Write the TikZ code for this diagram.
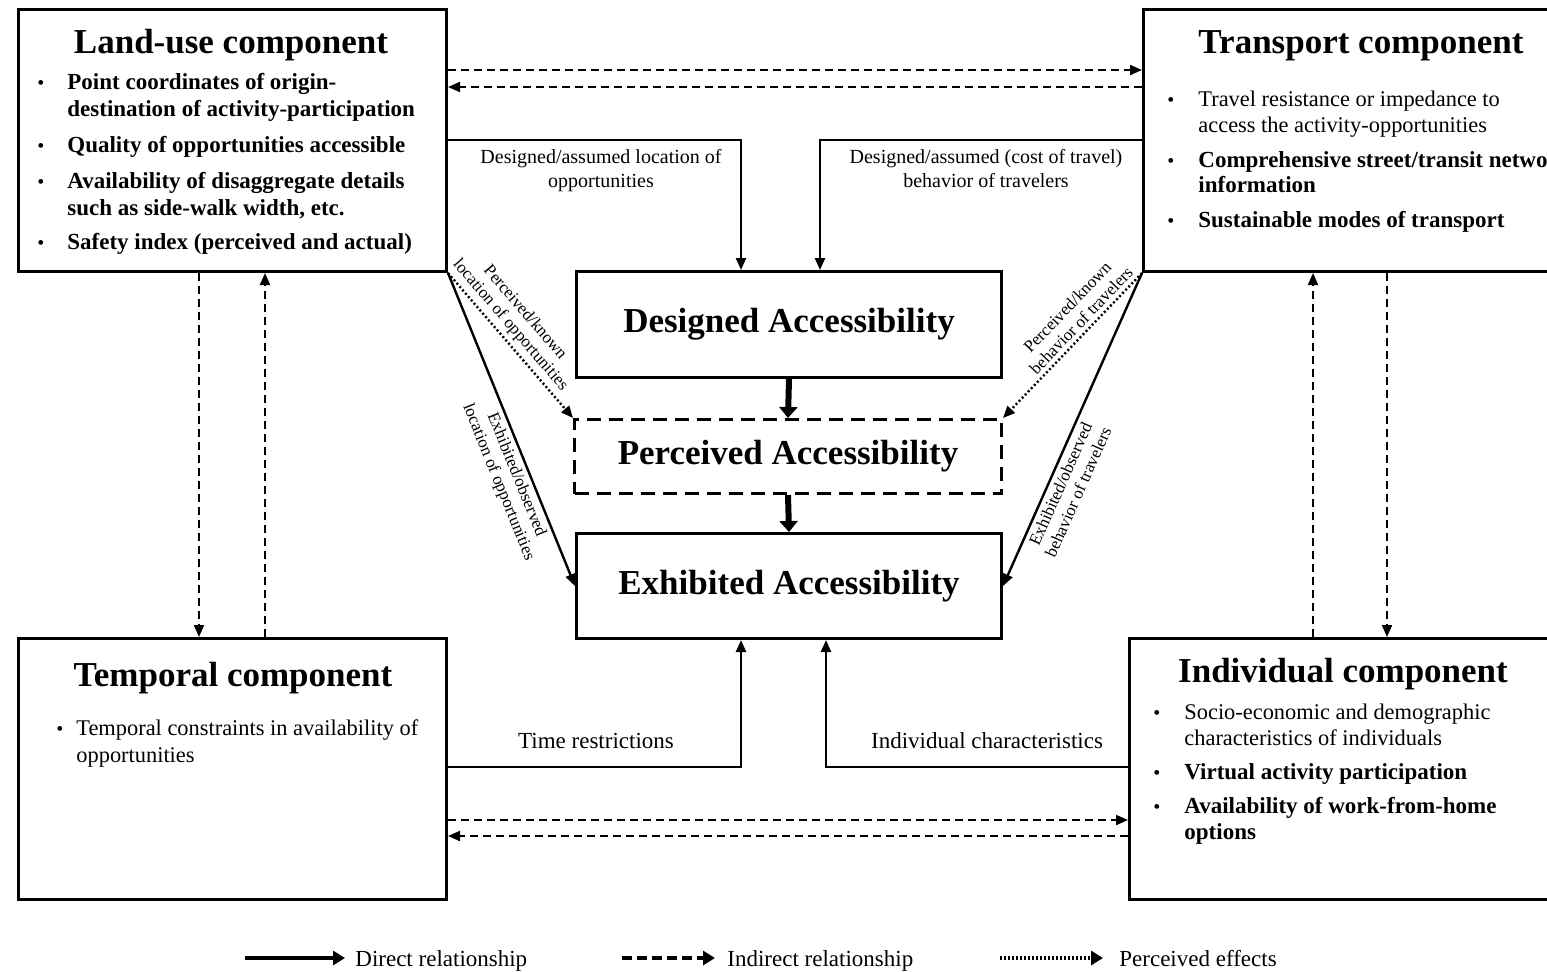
\documentclass[tikz,border=0pt]{standalone}
\usepackage{fontspec}
\setmainfont{Liberation Serif}
\usetikzlibrary{arrows.meta,calc}
\tikzset{
  box/.style={draw, line width=1.5pt, inner sep=0pt, anchor=north west},
  acc/.style={box, font=\fontsize{17.5}{20}\selectfont\bfseries},
  ttl/.style={font=\fontsize{17.5}{20}\selectfont\bfseries, anchor=base, inner sep=0pt},
  bt/.style={font=\fontsize{11.5}{13.5}\selectfont\bfseries, anchor=base west, inner sep=0pt},
  rt/.style={font=\fontsize{11.2}{13.5}\selectfont, anchor=base west, inner sep=0pt},
  bul/.style={font=\fontsize{10}{12}\selectfont, anchor=base west, inner sep=0pt},
  lbl/.style={font=\fontsize{10}{12}\selectfont, anchor=base, inner sep=0pt},
  mlbl/.style={font=\fontsize{11.5}{13.5}\selectfont, anchor=base, inner sep=0pt},
  dlbl/.style={font=\fontsize{8.5}{9.6}\selectfont, align=center, sloped, inner sep=2pt},
  leg/.style={font=\fontsize{11.5}{13.5}\selectfont, anchor=base west, inner sep=0pt},
  tip/.style={-{Triangle[length=6pt,width=5pt]}},
  dirarr/.style={tip, line width=1.2pt},
  indarr/.style={tip, line width=1pt, dash pattern=on 4pt off 2.5pt},
  percarr/.style={tip, line width=1.2pt, dash pattern=on 1pt off 1.2pt},
  thkarr/.style={line width=3pt, -{Triangle[length=5.5pt,width=9pt]}},
  legdir/.style={line width=2pt, -{Triangle[length=6pt,width=7pt]}},
  legind/.style={line width=2pt, dash pattern=on 5pt off 2.5pt, -{Triangle[length=6pt,width=7pt]}},
  legper/.style={line width=2pt, dash pattern=on 1pt off 1pt, -{Triangle[length=6pt,width=7pt]}},
}
\begin{document}
\begin{tikzpicture}[x=0.5pt,y=-0.5pt]
\useasboundingbox (0,0) rectangle (1547,971);
\clip (0,0) rectangle (1547,971);
\fill[white] (0,0) rectangle (1547,971);

% boxes
\node[box, minimum width=214pt, minimum height=131pt] (land) at (17,8) {};
\node[box, minimum width=216pt, minimum height=131pt] (trans) at (1142,8) {};
\node[box, minimum width=214pt, minimum height=130.5pt] (temp) at (17,637) {};
\node[box, minimum width=222pt, minimum height=130.5pt] (ind) at (1128,637) {};
\node[acc, minimum width=212.5pt, minimum height=53pt] (des) at (575,270) {Designed Accessibility};
\node[acc, minimum width=213.5pt, minimum height=37pt, dash pattern=on 7pt off 4pt] (perc) at (573,418) {Perceived Accessibility};
\node[acc, minimum width=212.5pt, minimum height=52.5pt] (exh) at (575,532) {Exhibited Accessibility};

% land-use text
\node[ttl] (lut) at (231,53) {Land-use component};
\node[bul] (lub1) at (37,89) {•};
\node[bt] (lu1) at (67,89) {Point coordinates of origin-};
\node[bt] (lu2) at (67,116) {destination of activity-participation};
\node[bul] (lub2) at (37,152) {•};
\node[bt] (lu3) at (67,152) {Quality of opportunities accessible};
\node[bul] (lub3) at (37,188) {•};
\node[bt] (lu4) at (67,188) {Availability of disaggregate details};
\node[bt] (lu5) at (67,215) {such as side-walk width, etc.};
\node[bul] (lub4) at (37,249) {•};
\node[bt] (lu6) at (67,249) {Safety index (perceived and actual)};

% transport text
\node[ttl] (trt) at (1361,53) {Transport component};
\node[bul] (trb1) at (1167,106) {•};
\node[rt] (tr1) at (1198,106) {Travel resistance or impedance to};
\node[rt] (tr2) at (1198,132) {access the activity-opportunities};
\node[bul] (trb2) at (1167,167) {•};
\node[bt] (tr3) at (1198,167) {Comprehensive street/transit network};
\node[bt] (tr4) at (1198,192) {information};
\node[bul] (trb3) at (1167,227) {•};
\node[bt] (tr5) at (1198,227) {Sustainable modes of transport};

% temporal text
\node[ttl] (tmt) at (233,686) {Temporal component};
\node[bul] (tmb1) at (56,735) {•};
\node[rt] (tm1) at (76,735) {Temporal constraints in availability of};
\node[rt] (tm2) at (76,762) {opportunities};

% individual text
\node[ttl] (idt) at (1343,682) {Individual component};
\node[bul] (idb1) at (1153,719) {•};
\node[rt] (id1) at (1184,719) {Socio-economic and demographic};
\node[rt] (id2) at (1184,745) {characteristics of individuals};
\node[bul] (idb2) at (1153,779) {•};
\node[bt] (id3) at (1184,779) {Virtual activity participation};
\node[bul] (idb3) at (1153,813) {•};
\node[bt] (id4) at (1184,813) {Availability of work-from-home};
\node[bt] (id5) at (1184,839) {options};

% top and bottom dashed exchanges
\draw[indarr] (land.east |- 0,70) -- (trans.west |- 0,70);
\draw[indarr] (trans.west |- 0,87) -- (land.east |- 0,87);
\draw[indarr] (temp.east |- 0,820) -- (ind.west |- 0,820);
\draw[indarr] (ind.west |- 0,836) -- (temp.east |- 0,836);

% vertical dashed
\draw[indarr] (199,0 |- land.south) -- (199,0 |- temp.north);
\draw[indarr] (265,0 |- temp.north) -- (265,0 |- land.south);
\draw[indarr] (1313,0 |- ind.north) -- (1313,0 |- trans.south);
\draw[indarr] (1387,0 |- trans.south) -- (1387,0 |- ind.north);

% designed inputs
\draw[dirarr] (land.east |- 0,140) -| (741,0 |- des.north);
\draw[dirarr] (trans.west |- 0,140) -| (820,0 |- des.north);
\node[lbl] (dl1) at (601,163) {Designed/assumed location of};
\node[lbl] (dl2) at (601,187) {opportunities};
\node[lbl] (dr1) at (986,163) {Designed/assumed (cost of travel)};
\node[lbl] (dr2) at (986,187) {behavior of travelers};

% central chain
\draw[thkarr] (des.south) -- (perc.north);
\draw[thkarr] (perc.south) -- (exh.north);

% diagonals
\draw[percarr] (land.south east) -- node[dlbl, above, pos=0.42] (pl) {Perceived/known\\location of opportunities} (perc.north west);
\draw[dirarr] (land.south east) -- node[dlbl, below, pos=0.63] (el) {Exhibited/observed\\location of opportunities} (exh.west);
\draw[percarr] (trans.south west) -- node[dlbl, above, pos=0.38] (pr) {Perceived/known\\behavior of travelers} (perc.north east);
\draw[dirarr] (trans.south west) -- node[dlbl, below, pos=0.66] (er) {Exhibited/observed\\behavior of travelers} (exh.east);

% bottom inputs
\draw[dirarr] (temp.east |- 0,767) -| (741,0 |- exh.south);
\draw[dirarr] (ind.west |- 0,767) -| (826,0 |- exh.south);
\node[mlbl] (tl) at (596,748) {Time restrictions};
\node[mlbl] (il) at (987,748) {Individual characteristics};

% legend
\coordinate (ls1) at (245,958); \coordinate (ls2) at (345,958);
\coordinate (ld1) at (622,958); \coordinate (ld2) at (715,958);
\coordinate (lp1) at (1000,958); \coordinate (lp2) at (1103,958);
\draw[legdir] (ls1) -- (ls2);
\draw[legind] (ld1) -- (ld2);
\draw[legper] (lp1) -- (lp2);
\node[leg] (lgt1) at (355,966) {Direct relationship};
\node[leg] (lgt2) at (727,966) {Indirect relationship};
\node[leg] (lgt3) at (1119,966) {Perceived effects};
\end{tikzpicture}
\end{document}
